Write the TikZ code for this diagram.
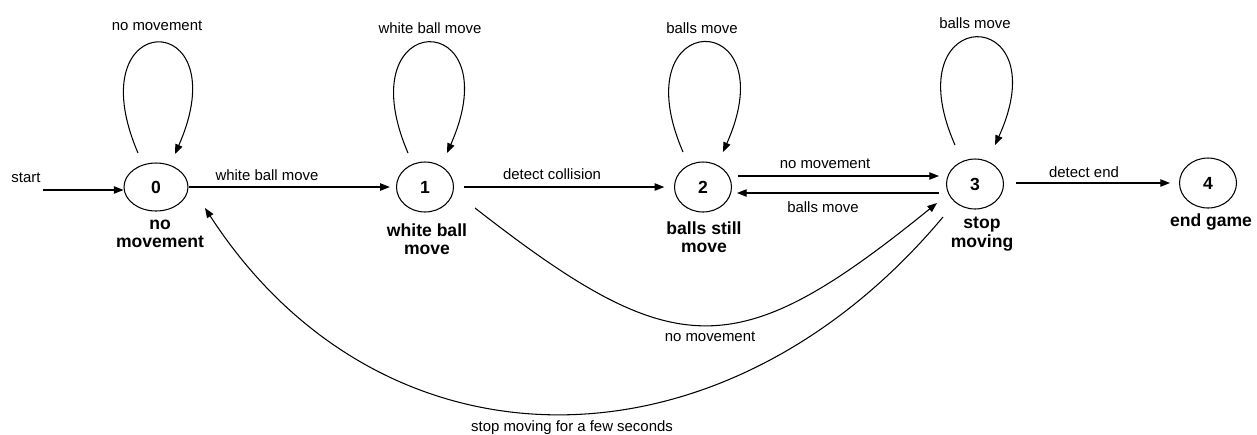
\documentclass[tikz,border=0pt]{standalone}
\usepackage{fontspec}
\setmainfont{Liberation Sans}
\usetikzlibrary{arrows.meta,shapes.geometric,calc}
\begin{document}
\begin{tikzpicture}[x=0.02cm,y=-0.02cm,
  state/.style={draw,ellipse,line width=0.6pt,inner sep=0pt,minimum width=1.14cm,minimum height=1.0cm,font=\bfseries\fontsize{10}{12}\selectfont},
  statename/.style={align=center,inner sep=0pt,font=\bfseries\fontsize{10}{10.4}\selectfont},
  elabel/.style={inner sep=0pt,font=\fontsize{8.5}{10}\selectfont},
  conn/.style={line width=0.6pt,-{Triangle[length=5.5pt,width=4.2pt]}}]
\useasboundingbox[fill=white] (0,0) rectangle (1257,434);

% states
\node[state,minimum width=1.28cm,minimum height=0.96cm] (n0) at (156,187) {0};
\node[state] (n1) at (425,187) {1};
\node[state] (n2) at (703,187) {2};
\node[state] (n3) at (975,184) {3};
\node[state] (n4) at (1208,183) {4};

% state names
\node[statename] (t0) at (160,234) {no\\movement};
\node[statename] (t1) at (427,239) {white ball\\move};
\node[statename] (t2) at (704,237) {balls still\\move};
\node[statename] (t3) at (982,234) {stop\\moving};
\node[statename] (t4) at (1211,222) {end game};

% start arrow
\coordinate (s) at (43,190);
\draw[conn] (s) -- (n0.west |- s);
\node[elabel] (ls) at (26,178) {start};

% straight transitions
\draw[conn,shorten >=3.5pt] (n0.east) -- (n1.west);
\node[elabel] (l01) at (267,175) {white ball move};

\draw[conn,shorten <=5.5pt,shorten >=5.5pt] (n1.east) -- (n2.west);
\node[elabel] (l12) at (552,174) {detect collision};

\draw[conn] ($(n2.east)+(6,-11)$) -- ($(n3.west)+(-7,-8)$);
\node[elabel] (l23) at (825,164) {no movement};

\draw[conn] ($(n3.west)+(-7,9)$) -- ($(n2.east)+(5,6)$);
\node[elabel] (l32) at (823,207) {balls move};

\draw[conn] ($(n3.east)+(12,-1)$) -- ($(n4.west)+(-9,0)$);
\node[elabel] (l34) at (1084,172) {detect end};

% self loops
\draw[conn] ($(n0)+(-18,-34)$) .. controls +(-63,-147) and +(65,-148) .. ($(n0)+(19,-33)$);
\node[elabel] (ll0) at (157,26) {no movement};

\draw[conn] ($(n1)+(-17,-34)$) .. controls +(-63,-147) and +(65,-147) .. ($(n1)+(22,-34)$);
\node[elabel] (ll1) at (430,28) {white ball move};

\draw[conn] ($(n2)+(-20,-35)$) .. controls +(-63,-146) and +(65,-146) .. ($(n2)+(20,-35)$);
\node[elabel] (ll2) at (702,28) {balls move};

\draw[conn] ($(n3)+(-20,-39)$) .. controls +(-63,-143) and +(65,-143) .. ($(n3)+(20,-39)$);
\node[elabel] (ll3) at (975,23) {balls move};

% curved transitions
\draw[conn] ($(n1)+(50,21)$) .. controls +(201,157) and +(-200,162) .. ($(n3)+(-38,19)$);
\node[elabel] (l13) at (710,337) {no movement};

\draw[conn] ($(n3)+(-32,33)$) .. controls +(-221,264) and +(177,273) .. ($(n0)+(49,21)$);
\node[elabel] (l30) at (572,428) {stop moving for a few seconds};
\end{tikzpicture}
\end{document}
